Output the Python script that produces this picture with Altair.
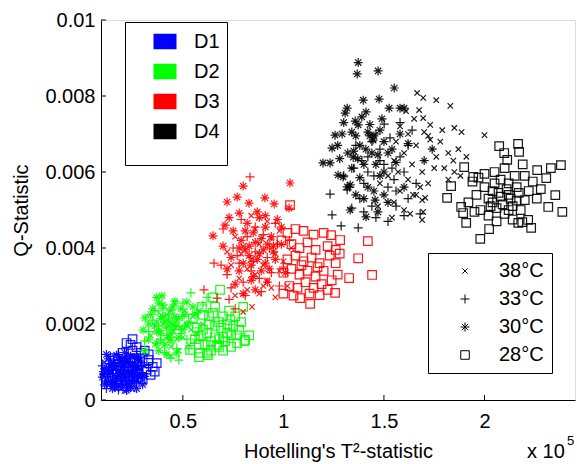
import altair as alt
import pandas as pd

XTICKS = [0.5, 1, 1.5, 2]
YTICKS = [0, 2, 4, 6, 8, 10]  # Q-statistic in units of 0.001
DATASETS = ["D1", "D2", "D3", "D4"]
TEMPS = ["38°C", "33°C", "30°C", "28°C"]
COLORS = ["#0000ff", "#00ff00", "#ff0000", "#000000"]

# (T2 in 1e5, Q in 1e-3)
D1_38 = [(0.12,0.55),(0.14,0.72),(0.16,0.48),(0.18,0.90),(0.20,0.62),(0.22,0.80),(0.24,0.45),(0.26,0.70),
         (0.15,1.00),(0.19,1.12),(0.23,1.05),(0.27,0.95),(0.11,0.82),(0.13,0.38),(0.17,0.30),(0.21,0.36),
         (0.25,0.58),(0.29,0.78),(0.30,0.52),(0.28,1.10),(0.16,0.66),(0.20,0.85),(0.24,0.92),(0.18,0.40),
         (0.22,0.55),(0.10,0.65),(0.26,0.40),(0.14,0.88),(0.19,0.74),(0.31,0.90),(0.21,0.24),(0.25,0.28),
         (0.13,0.48),(0.17,0.58),(0.21,0.92),(0.25,1.15),(0.29,0.60),(0.11,1.00),(0.23,0.70),(0.19,0.30)]
D1_33 = [(0.11,0.70),(0.13,0.95),(0.15,0.58),(0.17,0.80),(0.19,1.05),(0.21,0.68),(0.23,0.88),(0.25,0.52),
         (0.27,0.82),(0.29,1.00),(0.12,0.45),(0.16,0.35),(0.20,0.42),(0.24,0.35),(0.28,0.60),(0.14,1.15),
         (0.18,1.20),(0.22,1.10),(0.26,1.08),(0.30,0.72),(0.10,0.90),(0.17,0.52),(0.21,0.95),(0.25,0.72),
         (0.13,0.62),(0.19,0.60),(0.23,0.48),(0.33,0.85),(0.15,0.78),(0.27,0.45),(0.18,0.26),(0.12,0.30),
         (0.115,0.50),(0.135,0.80),(0.155,1.05),(0.175,0.65),(0.195,0.90),(0.215,0.50),(0.235,1.00),
         (0.255,0.90),(0.275,0.65),(0.295,0.88),(0.145,0.40),(0.205,0.78),(0.165,0.95),(0.245,0.60),
         (0.225,0.38)]
D1_30 = [(0.12,0.85),(0.14,0.50),(0.16,0.92),(0.18,0.64),(0.20,1.00),(0.22,0.70),(0.24,1.15),(0.26,0.60),
         (0.28,0.88),(0.11,0.40),(0.15,0.30),(0.19,0.38),(0.23,0.32),(0.27,0.50),(0.13,1.08),(0.17,1.18),
         (0.21,1.25),(0.25,0.85),(0.29,1.05),(0.31,0.62),(0.10,0.60),(0.18,0.78),(0.22,0.48),(0.26,0.98),
         (0.14,0.70),(0.20,0.55),(0.24,0.75),(0.16,0.42),(0.30,0.40),(0.12,1.20),(0.22,0.25),(0.27,0.30),
         (0.125,0.68),(0.145,0.95),(0.165,0.55),(0.185,1.05),(0.205,0.72),(0.225,0.95),(0.245,0.50),
         (0.265,0.78),(0.285,0.68),(0.105,0.75),(0.155,0.82),(0.195,0.48),(0.235,0.62),(0.275,1.12),
         (0.215,1.10)]
D1_28 = [(0.20,1.24),(0.22,1.50),(0.24,1.10),(0.27,1.39),(0.29,1.24),(0.35,0.87),(0.34,0.66),(0.37,0.97),
         (0.26,1.00),(0.30,1.10),(0.32,0.80),(0.28,0.70),(0.31,1.30),(0.25,1.30),(0.33,1.05),(0.23,0.90),
         (0.18,1.00),(0.36,0.75),(0.21,0.75),(0.27,0.60),(0.30,0.55),(0.33,1.20),(0.19,0.85),(0.24,1.45),
         (0.16,1.10),(0.25,1.60)]

D2_38 = [(0.34,1.70),(0.37,2.05),(0.40,1.55),(0.42,2.25),(0.45,1.80),(0.47,2.10),(0.50,1.65),(0.52,1.95),
         (0.55,2.20),(0.57,1.75),(0.39,1.85),(0.44,1.40),(0.48,1.30),(0.53,1.45),(0.41,2.45),(0.46,2.55),
         (0.36,1.45),(0.60,2.00),(0.43,1.95),(0.49,1.90),(0.51,2.35),(0.38,2.30),(0.56,1.55),(0.58,2.35),
         (0.44,1.15),(0.47,1.60),(0.54,1.85),(0.40,2.00)]
D2_33 = [(0.33,1.80),(0.35,2.10),(0.37,1.50),(0.40,2.40),(0.42,1.70),(0.45,2.05),(0.47,1.35),(0.50,2.20),
         (0.52,1.60),(0.54,2.05),(0.44,1.10),(0.41,1.25),(0.48,1.05),(0.54,2.82),(0.50,2.55),(0.57,2.30),
         (0.38,1.95),(0.43,2.25),(0.46,1.85),(0.49,1.75),(0.53,1.35),(0.36,2.35),(0.58,1.90),(0.60,2.50),
         (0.45,1.50),(0.51,1.95),(0.39,1.60),(0.56,1.70),(0.62,2.70),(0.31,1.55)]
D2_30 = [(0.396,2.74),(0.312,2.16),(0.302,1.84),(0.33,1.60),(0.372,1.50),(0.436,1.58),(0.47,1.24),(0.52,2.58),
         (0.35,2.40),(0.38,2.55),(0.40,2.20),(0.42,1.90),(0.44,2.35),(0.46,2.60),(0.48,2.15),(0.50,1.85),
         (0.36,1.95),(0.39,1.75),(0.41,1.45),(0.43,2.10),(0.45,2.45),(0.34,2.25),(0.37,2.70),(0.49,2.40),
         (0.52,2.00),(0.55,2.45),(0.31,1.30),(0.42,1.20),(0.38,1.30),(0.47,1.95),(0.40,2.50),(0.44,1.75),
         (0.56,2.25),(0.33,2.00),(0.41,2.05),(0.46,2.20),(0.48,1.65),(0.43,1.65),(0.39,2.15),(0.45,1.95),
         (0.51,2.25),(0.37,1.80)]
D2_28 = [(0.685,2.90),(0.65,2.70),(0.80,2.45),(0.806,1.55),(0.77,1.70),(0.58,1.13),(0.625,1.18),(0.68,1.40),
         (0.595,2.45),(0.60,2.24),(0.65,2.29),(0.735,2.10),(0.81,1.58),(0.77,1.50),(0.62,1.24),(0.585,1.24),
         (0.536,1.32),(0.56,1.60),(0.60,1.85),(0.63,2.00),(0.66,1.65),(0.69,1.90),(0.72,1.75),(0.75,1.95),
         (0.70,2.20),(0.67,1.45),(0.64,1.55),(0.71,1.55),(0.74,1.40),(0.78,1.85),(0.57,1.90),(0.61,1.45),
         (0.68,2.05),(0.73,2.35),(0.76,2.20),(0.55,2.15),(0.66,2.45),(0.83,1.70),(0.79,2.05),(0.64,1.30),
         (0.70,1.30),(0.59,1.70),(0.62,1.75),(0.66,1.95),(0.70,1.65),(0.74,1.70),(0.68,1.60),(0.63,2.20),
         (0.72,2.00),(0.58,1.45)]

D3_38 = [(0.80,2.32),(0.844,2.45),(0.76,2.75),(0.82,2.90),(0.88,2.80),(0.94,2.95),(0.78,3.20),(0.86,3.30),
         (0.92,3.15),(0.98,3.40),(1.02,3.00),(0.74,3.55),(0.84,3.70),(0.90,3.55),(0.96,3.85),(1.00,3.65),
         (0.80,4.05),(0.88,4.10),(0.94,4.25),(0.86,4.50),(0.92,4.70),(0.76,4.30),(0.72,3.90),(1.04,4.00),
         (0.82,3.45),(0.90,3.00),(0.96,2.70),(0.98,4.45),(0.84,4.85),(0.79,3.85)]
D3_33 = [(0.834,5.87),(0.655,3.60),(0.69,3.55),(0.605,2.90),(0.67,2.68),(0.76,2.40),(0.74,2.95),(0.72,3.30),
         (0.78,3.60),(0.80,3.10),(0.84,3.40),(0.86,3.90),(0.88,3.20),(0.92,3.75),(0.94,3.35),(0.97,4.10),
         (1.00,3.50),(0.82,4.30),(0.75,4.00),(0.70,4.50),(0.79,4.75),(0.86,4.55),(0.90,4.35),(0.96,4.65),
         (1.03,4.20),(0.73,2.65),(0.81,2.75),(0.98,3.00),(0.89,2.85),(0.77,3.80),(0.93,4.00),(0.85,3.65)]
D3_30 = [(0.80,5.63),(1.033,5.71),(0.72,5.21),(0.77,5.34),(0.829,5.18),(0.908,5.32),(0.954,5.16),(1.028,5.05),
         (0.65,4.32),(0.78,4.92),(0.73,4.80),(0.70,4.05),(0.75,4.45),(0.79,4.20),(0.82,4.65),(0.85,4.40),
         (0.88,4.80),(0.91,4.55),(0.94,4.30),(0.97,4.75),(0.74,3.75),(0.78,3.40),(0.81,3.95),(0.84,3.15),
         (0.87,3.70),(0.90,3.95),(0.93,3.45),(0.96,3.70),(0.99,4.10),(1.01,3.35),(0.76,3.05),(0.80,2.80),
         (0.86,2.90),(0.92,3.10),(0.72,3.45),(0.83,4.05),(0.89,4.25),(0.95,3.90),(0.87,4.95),(0.81,4.45),
         (0.99,4.55),(0.71,4.60),(0.84,3.55),(0.91,3.60),(0.83,3.80),(0.86,4.15),(0.89,3.40),(0.92,4.10),
         (0.80,3.60),(0.88,3.85),(0.85,3.25),(0.95,4.05),(0.78,4.00),(0.91,4.85)]
D3_28 = [(1.033,5.13),(1.42,4.18),(1.372,3.73),(1.327,3.21),(1.441,3.29),(1.133,2.53),(1.237,4.34),(1.282,4.21),
         (1.26,3.60),(1.27,3.30),(1.257,2.82),(1.18,2.76),(1.083,2.68),(1.02,4.40),(1.06,4.50),(1.10,4.45),
         (1.15,4.35),(1.20,4.40),(1.04,4.10),(1.08,4.00),(1.12,4.15),(1.16,3.95),(1.22,4.05),(1.02,3.70),
         (1.06,3.80),(1.10,3.65),(1.14,3.75),(1.18,3.60),(1.23,3.80),(1.00,3.35),(1.04,3.45),(1.08,3.30),
         (1.12,3.40),(1.16,3.25),(1.20,3.40),(1.24,3.15),(1.03,3.00),(1.07,2.95),(1.11,3.10),(1.15,2.95),
         (1.19,3.05),(1.22,2.90),(1.00,2.80),(1.05,2.75),(1.13,2.80),(1.17,3.50),(1.28,3.85),(1.26,3.95),
         (1.09,3.55),(0.99,4.20)]

D4_38 = [(1.665,8.08),(1.695,7.95),(1.76,7.89),(1.83,7.74),(1.85,7.16),(1.886,7.05),(2.00,6.97),(1.675,7.63),
         (1.695,7.42),(1.73,7.24),(1.72,6.95),(1.74,6.60),(1.70,6.30),(1.69,6.00),(1.72,5.70),(1.845,6.30),
         (1.85,6.00),(1.82,5.80),(1.69,5.26),(1.695,4.95),(1.69,4.74),(1.47,5.10),(1.50,5.40),(1.55,5.20),
         (1.60,5.00),(1.58,5.50),(1.62,5.80),(1.64,6.20),(1.60,6.50),(1.56,6.80),(1.62,7.00),(1.66,6.70),
         (1.66,5.40),(1.52,5.90),(1.55,6.30),(1.58,7.20),(1.78,6.80),(1.76,6.40),(1.80,6.10),(1.79,7.10),
         (1.87,6.60),(1.82,6.50),(1.75,6.10),(1.70,7.05),(1.63,4.90),(1.48,5.70),(1.54,4.80),(1.57,6.00),
         (1.68,5.60),(1.65,7.40),(1.61,7.60),(1.88,5.90),(1.91,6.40),(1.645,5.40),(1.705,5.32),(1.73,6.85)]
D4_33 = [(1.287,4.58),(1.372,4.53),(1.242,4.87),(1.232,5.42),(1.317,5.53),(1.501,7.26),(1.30,5.90),(1.35,6.10),
         (1.40,5.70),(1.45,5.90),(1.50,6.20),(1.55,5.80),(1.60,6.00),(1.42,6.40),(1.48,6.60),(1.53,6.90),
         (1.58,6.40),(1.62,6.70),(1.38,5.30),(1.44,5.10),(1.50,5.40),(1.56,5.10),(1.60,4.85),(1.46,4.80),
         (1.40,4.95),(1.52,4.70),(1.66,5.70),(1.70,6.30),(1.64,7.10),(1.58,7.30),(1.46,7.00),(1.36,6.70),
         (1.33,5.60),(1.42,6.00),(1.48,6.30),(1.54,6.10),(1.44,6.80),(1.56,5.50),(1.62,5.30),(1.68,4.90),
         (1.34,5.05),(1.39,6.30),(1.52,5.60),(1.74,6.60)]
D4_30 = [(1.372,8.88),(1.367,8.58),(1.471,8.66),(1.551,8.21),(1.476,7.92),(1.397,7.89),(1.526,7.68),(1.580,7.68),
         (1.600,7.68),(1.317,7.68),(1.307,7.55),(1.411,7.58),(1.357,7.34),(1.372,7.24),(1.30,7.30),(1.257,6.97),
         (1.292,7.00),(1.242,6.63),(1.197,6.24),(1.232,6.24),(1.272,5.92),(1.297,5.87),(1.332,5.66),(1.317,5.61),
         (1.332,5.00),(1.411,4.82),(1.456,5.26),(1.347,6.39),(1.38,6.70),(1.446,6.84),(1.42,7.05),(1.48,7.10),
         (1.50,6.80),(1.44,6.50),(1.40,6.20),(1.46,6.20),(1.52,6.50),(1.36,6.95),(1.32,6.50),(1.28,6.35),
         (1.34,6.10),(1.38,5.85),(1.42,5.60),(1.48,5.90),(1.54,6.60),(1.58,7.00),(1.56,6.25),(1.50,6.00),
         (1.45,5.50),(1.40,5.30),(1.36,5.40),(1.52,5.20),(1.47,4.95),(1.43,6.95),(1.39,7.45),(1.34,7.05),
         (1.27,6.70),(1.60,5.60),(1.62,6.75),(1.49,7.40),(1.41,6.60),(1.45,6.95),(1.37,6.35),(1.47,6.45),
         (1.43,7.25),(1.35,6.55)]
D4_28 = [(2.073,6.68),(2.167,6.74),(2.172,6.53),(2.098,6.50),(2.113,6.32),(1.899,6.13),(1.834,5.63),(1.814,5.32),
         (2.38,6.18),(2.33,6.10),(2.262,6.05),(2.307,5.84),(2.387,4.95),(2.352,5.39),(2.317,5.08),(2.26,5.30),
         (2.20,5.26),(2.232,4.53),(1.979,4.24),(2.023,4.50),(1.909,4.66),(1.884,5.08),(1.894,4.92),(2.168,4.66),
         (2.188,4.68),(2.217,4.74),(1.96,5.40),(2.00,5.60),(2.04,5.20),(2.08,5.80),(2.12,5.40),(2.16,5.60),
         (2.20,5.90),(1.98,5.00),(2.02,4.85),(2.06,5.05),(2.10,4.90),(2.14,5.10),(2.18,5.00),(2.22,5.50),
         (1.94,5.75),(2.05,6.00),(2.10,6.10),(2.15,5.90),(2.08,5.35),(2.12,5.70),(2.04,5.50),(2.16,5.25),
         (2.00,5.95),(2.24,5.75),(1.92,5.20),(2.06,4.70),(2.14,4.75),(2.09,5.15),(2.19,6.20),(1.97,5.85),
         (2.02,5.30),(2.28,5.55),(2.12,5.00),(1.95,4.95),(1.944,5.87),(2.07,5.45),(2.11,5.55),(2.13,5.30),
         (2.05,5.70),(2.17,5.45),(2.03,5.10)]

SERIES = [
    ("D1", "38°C", D1_38), ("D1", "33°C", D1_33), ("D1", "30°C", D1_30), ("D1", "28°C", D1_28),
    ("D2", "38°C", D2_38), ("D2", "33°C", D2_33), ("D2", "30°C", D2_30), ("D2", "28°C", D2_28),
    ("D3", "38°C", D3_38), ("D3", "33°C", D3_33), ("D3", "30°C", D3_30), ("D3", "28°C", D3_28),
    ("D4", "38°C", D4_38), ("D4", "33°C", D4_33), ("D4", "30°C", D4_30), ("D4", "28°C", D4_28),
]
rows = []
for d, t, pts in SERIES:
    for x, y in pts:
        rows.append({"T2": x, "Q": y, "D": d, "Temp": t})
df = pd.DataFrame(rows)

FONT = "Liberation Sans"

# marker glyphs (MATLAB style outlines)
X_PATH = "M-0.6,-0.6L0.6,0.6M-0.6,0.6L0.6,-0.6"
PLUS_PATH = "M-1,0L1,0M0,-1L0,1"
STAR_PATH = "M-1,0L1,0M0,-1L0,1M-0.7,-0.7L0.7,0.7M-0.7,0.7L0.7,-0.7"
SQ_PATH = "M-0.95,-0.95L0.95,-0.95L0.95,0.95L-0.95,0.95Z"
# solid swatch for colour legend built from stacked strokes
_sw = []
for k in range(-7, 8):
    yy = k * 0.087
    _sw.append(f"M-1,{yy:.3f}L1,{yy:.3f}")
SWATCH = "".join(_sw)

NB = "\u00a0"

points = alt.Chart(df).mark_point(filled=False, size=81, strokeWidth=1.2, opacity=0.9).encode(
    x=alt.X("T2:Q",
            scale=alt.Scale(domain=[0.093, 2.45], nice=False, zero=False),
            axis=alt.Axis(values=XTICKS, format=".1~f", title="Hotelling's T²-statistic",
                          grid=False, ticks=False, tickSize=0, labelPadding=11, labelFlush=False,
                          labelOverlap=False, domainColor="black", labelColor="black",
                          labelFont=FONT, labelFontSize=20, titleFont=FONT, titleFontSize=20,
                          titleFontWeight="normal", titleColor="black", titleY=57,
                          titleBaseline="alphabetic")),
    y=alt.Y("Q:Q",
            scale=alt.Scale(domain=[0, 10], nice=False, zero=True),
            axis=alt.Axis(values=YTICKS, labelExpr="format(datum.value/1000, '.3~f')",
                          title="Q-Statistic", grid=False, ticks=False, tickSize=0,
                          labelPadding=6, labelFlush=False, labelOverlap=False,
                          domainColor="black", labelColor="black", labelFont=FONT,
                          labelFontSize=20, titleFont=FONT, titleFontSize=20,
                          titleFontWeight="normal", titleColor="black", titleX=-74,
                          titleY=190, titleBaseline="alphabetic")),
    color=alt.Color("D:N", scale=alt.Scale(domain=DATASETS, range=COLORS),
                    legend=alt.Legend(orient="none", legendX=24, legendY=2, title=" ",
                                      titleOrient="bottom", titleFontSize=9, titlePadding=7,
                                      symbolType=SWATCH, symbolSize=529, symbolOpacity=1,
                                      symbolOffset=20.5, labelOffset=16.5, rowPadding=7,
                                      padding=7, strokeColor="black", fillColor="white",
                                      labelFont=FONT, labelFontSize=20, labelColor="black",
                                      labelExpr=f"datum.label + '{NB}{NB}{NB}'")),
    shape=alt.Shape("Temp:N", scale=alt.Scale(domain=TEMPS, range=[X_PATH, PLUS_PATH, STAR_PATH, SQ_PATH]),
                    legend=alt.Legend(orient="none", legendX=327, legendY=233, title=None,
                                      symbolSize=81, symbolOpacity=1, symbolStrokeColor="black",
                                      symbolStrokeWidth=1, symbolOffset=19, labelOffset=24,
                                      rowPadding=8, padding=8, strokeColor="black",
                                      fillColor="white", labelFont=FONT, labelFontSize=20,
                                      labelColor="black", labelExpr=f"datum.label + '{NB}'")),
)

xticks = alt.Chart(pd.DataFrame({"T2": XTICKS})).mark_rule(color="black", strokeWidth=1).encode(
    x="T2:Q", y=alt.value(380), y2=alt.value(375))
yticks = alt.Chart(pd.DataFrame({"Q": YTICKS})).mark_rule(color="black", strokeWidth=1).encode(
    y="Q:Q", x=alt.value(0), x2=alt.value(5))

mult = alt.Chart(pd.DataFrame({"s": ["x 10"]})).mark_text(
    align="left", baseline="alphabetic", font=FONT, fontSize=20, color="black").encode(
    text="s:N", x=alt.value(426), y=alt.value(438))
expo = alt.Chart(pd.DataFrame({"s": ["5"]})).mark_text(
    align="left", baseline="alphabetic", font=FONT, fontSize=13, color="black").encode(
    text="s:N", x=alt.value(466), y=alt.value(425))

chart = alt.layer(points, xticks, yticks, mult, expo).properties(
    width=474, height=380,
    padding={"left": 101, "top": 20, "right": 2, "bottom": 64},
    autosize=alt.AutoSizeParams(type="none"),
    background="white",
).configure_view(stroke=None).configure(font=FONT)

chart.save("out.html", embed_options={"renderer": "svg", "actions": False})
